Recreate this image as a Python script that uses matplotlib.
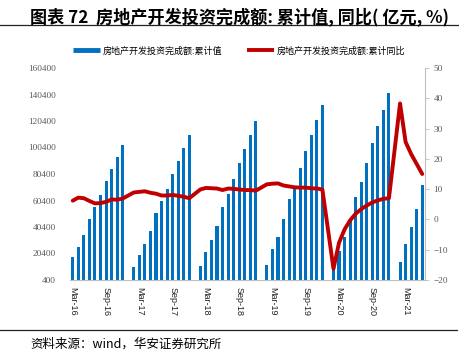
import numpy as np
import matplotlib.pyplot as plt
from matplotlib.lines import Line2D

plt.rcParams['font.family'] = ['Noto Sans CJK SC', 'DejaVu Sans']

# monthly slots Mar-16 .. Jun-21, January has no data (Jan-Feb reported together)
years = [2016, 2017, 2018, 2019, 2020, 2021]
value = {  # 累计值, 亿元, months Feb..Dec
    2016: [None, 17677, 25117, 34130, 46631, 55360, 64296, 75053, 84421, 93385, 102581],
    2017: [9854, 19292, 27732, 37656, 50610, 59761, 68726, 80644, 90544, 100387, 109799],
    2018: [10994, 21291, 30592, 40942, 55531, 64965, 76519, 88948, 99325, 110083, 120264],
    2019: [12090, 23803, 32690, 46075, 61609, 70665, 84589, 98008, 109603, 121265, 132194],
    2020: [10115, 21963, 33103, 45920, 62780, 74270, 88454, 103484, 116556, 128492, 141443],
    2021: [13986, 27576, 40240, 54318, 72179],
}
growth = {  # 累计同比, %
    2016: [None, 6.2, 7.2, 7.0, 6.1, 5.3, 5.4, 5.8, 6.6, 6.5, 6.9],
    2017: [8.9, 9.1, 9.3, 8.8, 8.5, 7.9, 7.9, 8.1, 7.8, 7.5, 7.0],
    2018: [9.9, 10.4, 10.3, 10.2, 9.7, 10.2, 10.1, 9.9, 9.7, 9.7, 9.5],
    2019: [11.6, 11.8, 11.9, 11.2, 10.9, 10.6, 10.5, 10.5, 10.3, 10.2, 9.9],
    2020: [-16.3, -7.7, -3.3, -0.3, 1.9, 3.4, 4.6, 5.6, 6.3, 6.8, 7.0],
    2021: [38.3, 25.6, 21.6, 18.3, 15.0],
}
month_names = ['Jan', 'Feb', 'Mar', 'Apr', 'May', 'Jun', 'Jul', 'Aug', 'Sep', 'Oct', 'Nov', 'Dec']

labels, vals, yoy = [], [], []
for y in years:
    for m in range(1, 13):
        if y == 2016 and m < 3:
            continue
        if y == 2021 and m > 6:
            continue
        labels.append(f"{month_names[m - 1]}-{str(y)[2:]}")
        if m == 1:
            vals.append(np.nan); yoy.append(np.nan)
        else:
            v = value[y][m - 2]; g = growth[y][m - 2]
            vals.append(np.nan if v is None else v)
            yoy.append(np.nan if g is None else g)

vals = np.array(vals, dtype=float)
yoy = np.array(yoy, dtype=float)
x = np.arange(len(labels))

blue = '#0070C0'
red = '#C00000'
grey = '#595959'

fig = plt.figure(figsize=(4.6, 3.63), dpi=100)
ax = fig.add_axes([70 / 460, 83 / 363, 355 / 460, 212 / 363])
ax2 = ax.twinx()

ax.bar(x, np.nan_to_num(vals), width=0.55, color=blue, zorder=2)
ok = ~np.isnan(yoy)
ax2.plot(x[ok], yoy[ok], color=red, lw=2.8, solid_joinstyle='round', solid_capstyle='round', zorder=3)

ax.set_xlim(-0.5, len(x) - 0.5)
ax.set_ylim(400, 160400)
ax.set_yticks(np.arange(400, 160401, 20000))
ax2.set_ylim(-20, 50)
ax2.set_yticks(np.arange(-20, 51, 10))

tick_idx = [i for i, l in enumerate(labels) if l[:3] in ('Mar', 'Sep')]
ax.set_xticks(tick_idx)
ax.set_xticklabels([labels[i] for i in tick_idx], rotation=-90, fontsize=6.5,
                   family='Liberation Sans', color='#222222')
ax.tick_params(axis='x', length=0, pad=5)

for lab in ax.get_yticklabels():
    lab.set_family('Liberation Serif')
ax.tick_params(axis='y', length=0, labelsize=6.7, labelcolor=grey, pad=10)
ax2.tick_params(axis='y', length=3, width=0.6, color='#bfbfbf', labelsize=6.7, labelcolor=grey, pad=3)
for lab in ax2.get_yticklabels():
    lab.set_family('Liberation Serif')

for a in (ax, ax2):
    for s in ('top', 'left'):
        a.spines[s].set_visible(False)
ax.spines['right'].set_visible(False)
ax2.spines['bottom'].set_visible(False)
ax2.spines['right'].set_color('#bfbfbf')
ax2.spines['right'].set_linewidth(0.8)
ax.spines['bottom'].set_color('#bfbfbf')
ax.spines['bottom'].set_linewidth(0.8)

handles = [Line2D([], [], color=blue, lw=3.5, solid_capstyle='butt'),
           Line2D([], [], color=red, lw=2.8, solid_capstyle='butt')]
fig.legend(handles, ['房地产开发投资完成额:累计值', '房地产开发投资完成额:累计同比'],
           loc='center', bbox_to_anchor=(0.52, 1 - 51 / 363), ncol=2, frameon=False,
           fontsize=6.5, handlelength=3.0, columnspacing=2.8, handletextpad=0.3)

fig.text(30 / 460, 1 - 17 / 363, '图表 72  房地产开发投资完成额: 累计值, 同比( 亿元, %)',
         fontsize=12.3, weight='bold', va='center', ha='left')
fig.add_artist(Line2D([0, 1], [1 - 25 / 363] * 2, transform=fig.transFigure, color='#222222', lw=0.9))
fig.add_artist(Line2D([0, 457 / 460], [1 - 330 / 363] * 2, transform=fig.transFigure, color='#222222', lw=0.9))
fig.text(30 / 460, 1 - 344 / 363, '资料来源：wind，华安证券研究所', fontsize=9, va='center', ha='left')

fig.savefig('out.png', dpi=100)
